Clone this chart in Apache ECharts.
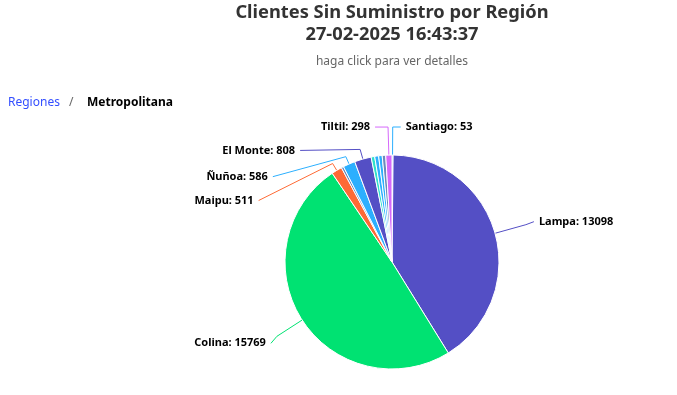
<!DOCTYPE html>
<html>
<head>
<meta charset="utf-8">
<script src="https://cdn.jsdelivr.net/npm/echarts@6/dist/echarts.min.js"></script>
<style>
html,body{margin:0;padding:0;background:#fff;}
#chart{width:677px;height:395px;}
</style>
</head>
<body>
<div id="chart"></div>
<script>
// Data
const comunas = ['Santiago', 'Lampa', 'Colina', 'Maipu', 'Pudahuel', 'Ñuñoa', 'El Monte', 'Quilicura', 'Peñaflor', 'Buin', 'Talagante', 'Tiltil'];
const clientes = [53, 13098, 15769, 511, 110, 586, 808, 170, 190, 170, 170, 298];
const colores = ['#2caffe', '#544fc5', '#00e272', '#fe6a35', '#6b8abc', '#2caffe', '#544fc5', '#2ee0ca', '#2caffe', '#2caffe', '#6b8abc', '#d568fb'];
const conEtiqueta = ['Santiago', 'Lampa', 'Colina', 'Maipu', 'Ñuñoa', 'El Monte', 'Tiltil'];

const titulo = 'Clientes Sin Suministro por Región';
const fecha = '27-02-2025 16:43:37';
const subtitulo = 'haga click para ver detalles';
const migaInicio = 'Regiones';
const migaActual = 'Metropolitana';

// label connector layout (per label): radial length, horizontal length, vertical shift
const conector = {
  'Santiago': { l1: 28, l2: 8, dy: 0 },
  'Lampa':    { l1: 32, l2: 8, dy: -3 },
  'Colina':   { l1: 30, l2: 6, dy: 7 },
  'Maipu':    { l1: 8,  l2: 74, dy: 37 },
  'Ñuñoa':    { l1: 8,  l2: 73, dy: 20 },
  'El Monte': { l1: 10, l2: 60, dy: 1 },
  'Tiltil':   { l1: 28, l2: 13, dy: 0 }
};

const chart = echarts.init(document.getElementById('chart'));
const font = '"Noto Sans", "Liberation Sans", Arial, sans-serif';

const data = comunas.map((n, i) => {
  const show = conEtiqueta.includes(n);
  const c = conector[n] || { l1: 10, l2: 10 };
  return {
    name: n,
    value: clientes[i],
    itemStyle: { color: colores[i] },
    label: { show: show },
    labelLine: { show: show, length: c.l1, length2: c.l2 }
  };
});

chart.setOption({
  animation: false,
  graphic: [
    { type: 'group', children: [
      { type: 'text', x: 392, y: 13, style: { text: titulo, align: 'center', verticalAlign: 'middle', fill: '#333333', font: 'bold 18.3px ' + font } },
      { type: 'text', x: 392, y: 35, style: { text: fecha, align: 'center', verticalAlign: 'middle', fill: '#333333', font: 'bold 18.3px ' + font } },
      { type: 'text', x: 392, y: 62, style: { text: subtitulo, align: 'center', verticalAlign: 'middle', fill: '#666666', font: '12px ' + font } },
      { type: 'text', x: 8, y: 102.5, style: { text: migaInicio, verticalAlign: 'middle', fill: '#334eff', font: '12px ' + font } },
      { type: 'text', x: 69, y: 102.5, style: { text: '/', verticalAlign: 'middle', fill: '#666666', font: '12px ' + font } },
      { type: 'text', x: 87, y: 102.5, style: { text: migaActual, verticalAlign: 'middle', fill: '#000000', font: 'bold 12px ' + font } }
    ]}
  ],
  series: [{
    type: 'pie',
    center: [392, 262],
    radius: 107,
    startAngle: 90,
    clockwise: true,
    avoidLabelOverlap: false,
    itemStyle: { borderColor: '#ffffff', borderWidth: 1 },
    label: {
      formatter: '{b}: {c}',
      fontFamily: font,
      fontSize: 11,
      fontWeight: 'bold',
      color: '#000000',
      textBorderColor: '#ffffff',
      textBorderWidth: 2,
      distanceToLabelLine: 5
    },
    labelLine: { lineStyle: { width: 1 } },
    labelLayout: function (p) {
      const c = conector[comunas[p.dataIndex]];
      if (!c || !c.dy || !p.labelLinePoints) return {};
      const pts = p.labelLinePoints.map(q => [q[0], q[1]]);
      pts[2][1] += c.dy;
      return { dy: c.dy, labelLinePoints: pts };
    },
    emphasis: { disabled: true },
    data: data
  }]
});
</script>
</body>
</html>
